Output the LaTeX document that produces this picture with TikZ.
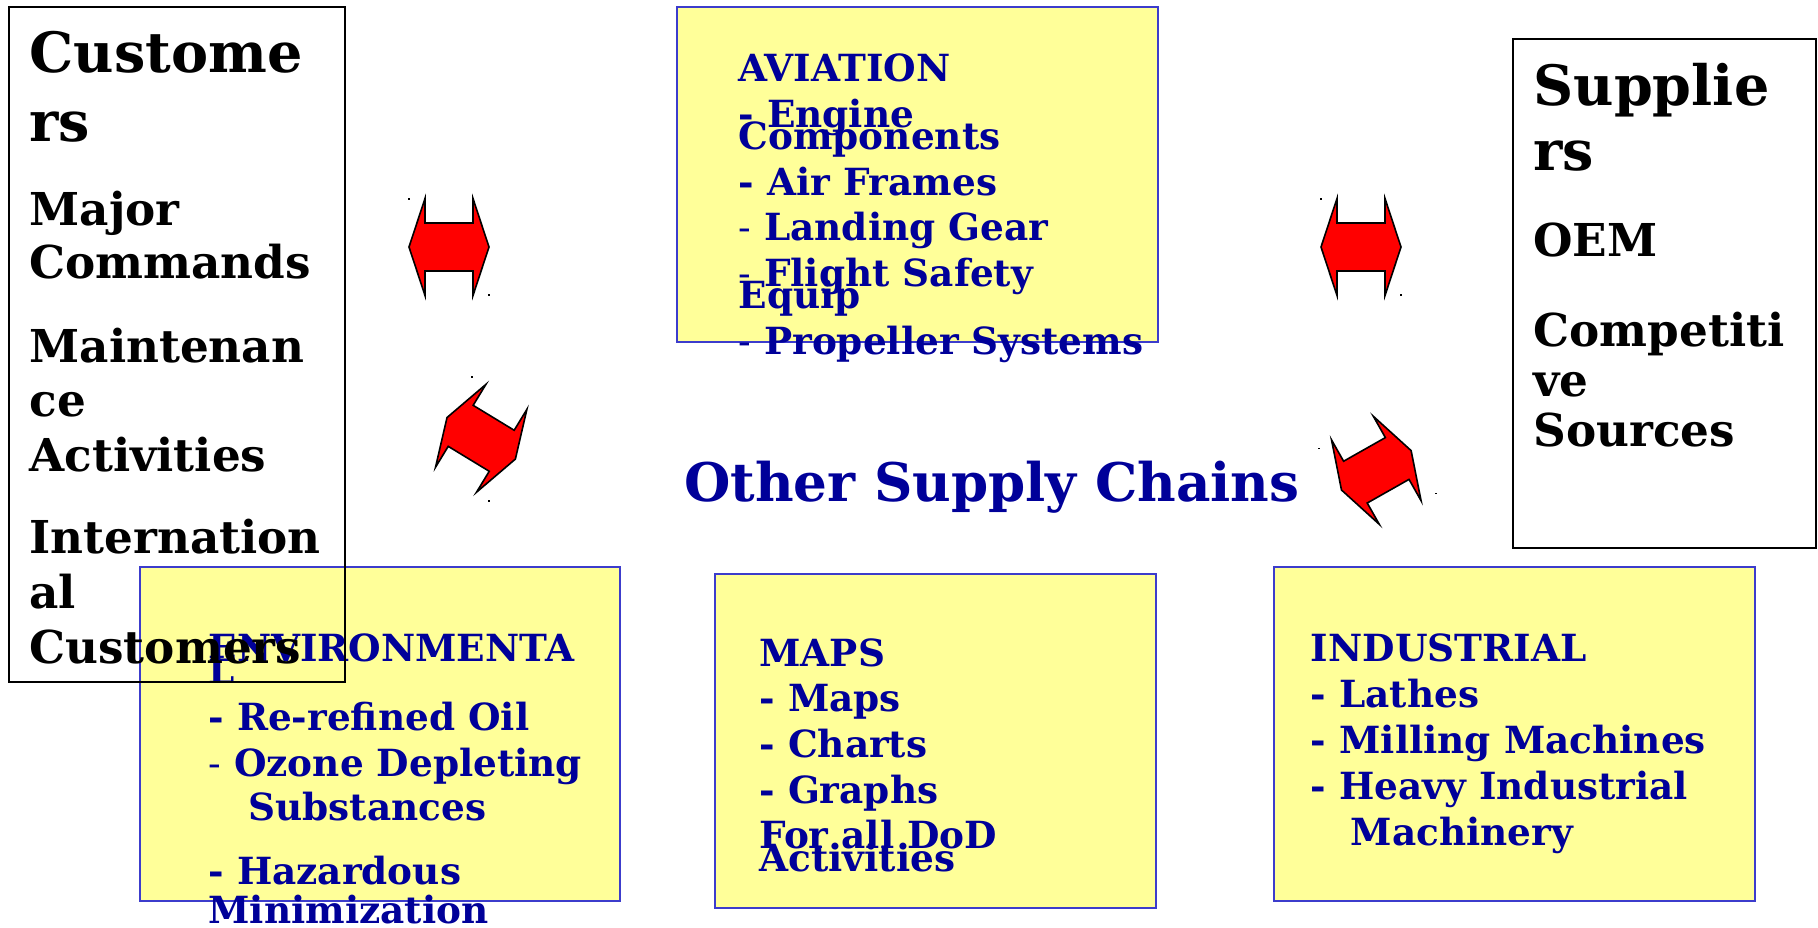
\documentclass[tikz,border=0pt]{standalone}
\usepackage{fontspec}
\setmainfont{DejaVu Serif}
\definecolor{txtblue}{RGB}{0,0,153}
\definecolor{boxyellow}{RGB}{255,255,153}
\definecolor{boxblue}{RGB}{60,60,204}
\tikzset{
  cbox/.style={draw=black, line width=2pt, inner sep=0pt, outer sep=0pt},
  ybox/.style={draw=boxblue, fill=boxyellow, line width=2pt, inner sep=0pt, outer sep=0pt},
  ttl/.style={anchor=base west, inner sep=0pt, text=black, font=\fontsize{55.6pt}{60pt}\selectfont\bfseries},
  bdy/.style={anchor=base west, inner sep=0pt, text=black, font=\fontsize{45.3pt}{54pt}\selectfont\bfseries},
  itm/.style={anchor=base west, inner sep=0pt, text=txtblue, font=\fontsize{37.4pt}{45pt}\selectfont\bfseries},
  bigt/.style={anchor=base west, inner sep=0pt, text=txtblue, font=\fontsize{53.2pt}{60pt}\selectfont\bfseries},
  redarr/.style={fill=red, draw=black, line width=1.6pt, line join=miter},
  tick/.style={fill=black}
}
\newcommand\dblarrow[3]{%
  \begin{scope}[shift={(#1,#2)}, rotate=#3]
    \filldraw[redarr] (-40,0) -- (-24,-48.5) -- (-24,-24) -- (24,-24) -- (24,-48.5) -- (40,0)
      -- (24,48.5) -- (24,24) -- (-24,24) -- (-24,48.5) -- cycle;
  \end{scope}}
\newcommand\thinhy{{\mdseries -}}
\begin{document}
\begin{tikzpicture}[x=1pt,y=-1pt]
\useasboundingbox (0,0) rectangle (1818,927);

% ---------- AVIATION ----------
\node[ybox, minimum width=481pt, minimum height=334.4pt] (aviation) at (917.8,174.5) {};
\node[itm] (av1) at (738.3,81.7) {AVIATION};
\node[itm] (av2) at (738.3,127.3) {- Engine};
\node[itm] (av3) at (738.3,149) {Components};
\node[itm] (av4) at (738.3,195) {- Air Frames};
\node[itm] (av5) at (738.3,240.7) {\thinhy{} Landing Gear};
\node[itm] (av6) at (738.3,286.7) {\thinhy{} Flight Safety};
\node[itm] (av7) at (738.3,308.3) {Equip};
\node[itm] (av8) at (738.3,354) {\thinhy{} Propeller Systems};

% ---------- MAPS ----------
\node[ybox, minimum width=440.7pt, minimum height=333.7pt] (maps) at (935.35,740.85) {};
\node[itm] (mp1) at (759.3,666.7) {MAPS};
\node[itm] (mp2) at (759.3,711.7) {- Maps};
\node[itm] (mp3) at (759.3,757.7) {- Charts};
\node[itm] (mp4) at (759.3,803.3) {- Graphs};
\node[itm] (mp5) at (759.3,848.3) {For all DoD};
\node[itm] (mp6) at (759.3,871.7) {Activities};

% ---------- INDUSTRIAL ----------
\node[ybox, minimum width=480.7pt, minimum height=334pt] (industrial) at (1514.65,733.7) {};
\node[itm] (in1) at (1310.7,661.7) {INDUSTRIAL};
\node[itm] (in2) at (1310.7,707.7) {- Lathes};
\node[itm] (in3) at (1310.7,753.3) {- Milling Machines};
\node[itm] (in4) at (1310.7,799.3) {- Heavy Industrial};
\node[itm] (in5) at (1350.7,845) {Machinery};

% ---------- ENVIRONMENTAL ----------
\node[ybox, minimum width=480pt, minimum height=334pt] (environ) at (380,733.7) {};
\node[itm] (en1) at (208.3,661.7) {ENVIRONMENTA};
\node[itm] (en2) at (208.3,683.3) {L};
\node[itm] (en3) at (208.3,730) {- Re-refined Oil};
\node[itm] (en4) at (208.3,776) {\thinhy{} Ozone Depleting};
\node[itm] (en5) at (248.3,820) {Substances};
\node[itm] (en6) at (208.3,884) {- Hazardous};
\node[itm] (en7) at (208.3,923.3) {Minimization};

% ---------- CUSTOMERS ----------
\node[cbox, minimum width=336pt, minimum height=675.4pt] (customers) at (177,344.3) {};
\node[ttl] (cu1) at (29.3,72.7) {Custome};
\node[ttl] (cu2) at (29.3,141) {rs};
\node[bdy] (cu3) at (29.3,225.5) {Major};
\node[bdy] (cu4) at (29.3,278.4) {Commands};
\node[bdy] (cu5) at (29.3,362) {Maintenan};
\node[bdy] (cu6) at (29.3,416) {ce};
\node[bdy] (cu7) at (29.3,471) {Activities};
\node[bdy] (cu8) at (29.3,553) {Internation};
\node[bdy] (cu9) at (29.3,608) {al};
\node[bdy] (cu10) at (29.3,663) {Customers};

% ---------- SUPPLIERS ----------
\node[cbox, minimum width=303.3pt, minimum height=509pt] (suppliers) at (1664.35,293.8) {};
\node[ttl] (su1) at (1533.3,105) {Supplie};
\node[ttl] (su2) at (1533.3,170) {rs};
\node[bdy] (su3) at (1533.3,256) {OEM};
\node[bdy] (su4) at (1533.3,346.7) {Competiti};
\node[bdy] (su5) at (1533.3,396.7) {ve};
\node[bdy] (su6) at (1533.3,446.7) {Sources};

% ---------- CENTER TITLE ----------
\node[bigt] (other) at (684,501.7) {Other Supply Chains};

% ---------- DOUBLE ARROWS ----------
\dblarrow{449}{247}{0}
\dblarrow{1361}{247}{0}
\dblarrow{481.2}{438.3}{-31.3}
\dblarrow{1376.3}{470.3}{29.5}

% small marks
\fill[tick] (408,198.3) rectangle ++(2,1.5);
\fill[tick] (488,294.3) rectangle ++(2,1.5);
\fill[tick] (471.3,376) rectangle ++(2,1.5);
\fill[tick] (488.3,500) rectangle ++(2,1.5);
\fill[tick] (1320,198.3) rectangle ++(2,1.5);
\fill[tick] (1400,294.3) rectangle ++(2,1.5);
\fill[tick] (1318,447.6) rectangle ++(2,1.5);
\fill[tick] (1435,492.6) rectangle ++(2,1.5);
\end{tikzpicture}
\end{document}
